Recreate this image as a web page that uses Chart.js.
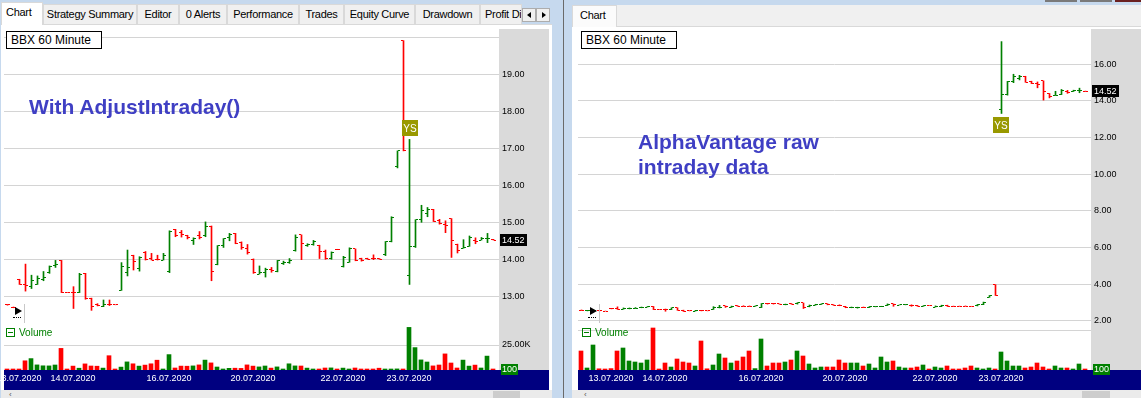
<!DOCTYPE html>
<html>
<head>
<meta charset="utf-8">
<script src="https://cdn.jsdelivr.net/npm/chart.js@4.4.1/dist/chart.umd.min.js"></script>
<style>
  body { margin:0; width:1141px; height:398px; overflow:hidden; position:relative; background:#c6d9ee;
         font-family:"Liberation Sans", Arial, sans-serif; }
  .abs { position:absolute; }
  .tab { position:absolute; top:4px; height:20px; box-sizing:border-box; background:#f0f0f0; border:1px solid #d9d9d9;
         border-bottom:none; font-size:11px; letter-spacing:-0.3px; line-height:19px; text-align:center; white-space:nowrap; overflow:hidden; color:#000; }
  .tab.on { top:2px; height:23px; background:#fff; text-align:left; padding-left:4px; z-index:2; }
  .content { position:absolute; background:#fff; }
  .axisbg { position:absolute; background:#dadada; }
  canvas { position:absolute; }
  .title { position:absolute; top:31px; height:18px; width:96px; box-sizing:border-box; border:1px solid #000; background:#fff;
           font-size:12px; line-height:16px; padding-left:4px; white-space:nowrap; z-index:3; }
  .note { position:absolute; font-weight:bold; font-size:21px; line-height:25px; color:#3f3fc4; white-space:nowrap; z-index:3; }
  .vol { position:absolute; top:327px; font-size:10px; color:#008000; z-index:3; line-height:12px; }
  .vol i { display:inline-block; width:9px; height:9px; box-sizing:border-box; border:1px solid #008000; position:relative; top:1px; margin-right:4px; }
  .vol i:after { content:""; position:absolute; left:1px; top:3px; width:5px; height:1px; background:#008000; }
  .play { position:absolute; top:304px; width:12px; height:19px; border-right:1px solid #c8c8c8; z-index:3; }
  .play b { position:absolute; left:3px; top:3px; width:0; height:0; border-left:7px solid #000; border-top:4px solid transparent; border-bottom:4px solid transparent; }
  .play u { position:absolute; left:1px; top:13px; width:8px; border-top:1px dotted #000; }
  .scroll { position:absolute; top:390px; height:8px; background:#ebebeb; }
  .thumb { position:absolute; top:391px; height:7px; background:#cdcdcd; }
  .arrbtn { position:absolute; top:8px; width:14px; height:14px; box-sizing:border-box; background:#f0f0f0; border:1px solid #adadad; }
</style>
</head>
<body>

<!-- left window -->
<div class="content" style="left:1px;top:24px;width:551px;height:366px;border-top:1px solid #d9d9d9;"></div>
<div class="tab on" style="left:1px;width:42px;">Chart</div>
<div class="tab" style="left:43px;width:94px;">Strategy Summary</div>
<div class="tab" style="left:137px;width:42px;">Editor</div>
<div class="tab" style="left:179px;width:48px;">0 Alerts</div>
<div class="tab" style="left:227px;width:72px;">Performance</div>
<div class="tab" style="left:299px;width:45px;">Trades</div>
<div class="tab" style="left:344px;width:71px;">Equity Curve</div>
<div class="tab" style="left:415px;width:65px;">Drawdown</div>
<div class="tab" style="left:480px;width:42px;text-align:left;padding-left:4px;">Profit Distribution</div>
<div class="arrbtn" style="left:522px;"><div class="abs" style="left:4px;top:3px;border-right:4px solid #000;border-top:3px solid transparent;border-bottom:3px solid transparent;"></div></div>
<div class="arrbtn" style="left:536px;"><div class="abs" style="left:5px;top:3px;border-left:4px solid #000;border-top:3px solid transparent;border-bottom:3px solid transparent;"></div></div>
<div class="axisbg" style="left:499px;top:29px;width:50px;height:341px;"></div>
<div class="scroll" style="left:1px;width:551px;"></div>
<div class="thumb" style="left:493px;width:27px;"></div>
<div class="abs" style="left:9px;top:392px;font-size:8px;color:#555;line-height:6px;">&lsaquo;</div>

<!-- separator -->
<div class="abs" style="left:563px;top:0;width:1px;height:398px;background:#6a6a6a;"></div>

<!-- right window -->
<div class="abs" style="left:617px;top:5px;width:524px;height:21px;background:#f0f0f0;border-bottom:1px solid #d9d9d9;"></div>
<div class="content" style="left:572px;top:27px;width:569px;height:363px;"></div>
<div class="tab on" style="left:572px;top:5px;width:45px;height:22px;padding-left:7px;background:#fbfbfb;">Chart</div>
<div class="abs" style="left:1045px;top:0;width:32px;height:2px;background:#7a7a7a;"></div>
<div class="abs" style="left:1080px;top:0;width:32px;height:2px;background:#7a7a7a;"></div>
<div class="abs" style="left:1115px;top:0;width:26px;height:2px;background:#6b2020;"></div>
<div class="axisbg" style="left:1091px;top:29px;width:50px;height:341px;"></div>
<div class="scroll" style="left:572px;width:569px;"></div>
<div class="thumb" style="left:1082px;width:28px;"></div>
<div class="abs" style="left:584px;top:392px;font-size:8px;color:#555;line-height:6px;">&lsaquo;</div>

<canvas id="leftPrice" width="549" height="295" style="left:0;top:29px;"></canvas>
<canvas id="leftVol" width="549" height="66" style="left:0;top:324px;"></canvas>
<canvas id="rightPrice" width="571" height="295" style="left:570px;top:29px;"></canvas>
<canvas id="rightVol" width="571" height="66" style="left:570px;top:324px;"></canvas>

<div class="title" style="left:6px;">BBX 60 Minute</div>
<div class="title" style="left:581px;">BBX 60 Minute</div>
<div class="note" style="left:29px;top:94px;">With AdjustIntraday()</div>
<div class="note" style="left:638px;top:129px;">AlphaVantage raw<br>intraday data</div>
<div class="play" style="left:12px;"><b></b><u></u></div>
<div class="play" style="left:587px;"><b></b><u></u></div>
<div class="vol" style="left:6px;"><i></i>Volume</div>
<div class="vol" style="left:582px;"><i></i>Volume</div>

<script>
const RED = '#ff0000';
const GREEN = '#008000';
const NAVY = '#000080';
const FONT = '"Liberation Sans", Arial, sans-serif';

// ---- left pane: BBX 60 minute bars after AdjustIntraday() ----
const leftOpen = [12.77,12.70,13.46,13.32,13.26,13.32,13.46,13.65,13.82,13.97,
  13.10,13.10,13.10,13.62,12.95,12.79,12.72,12.78,12.77,13.16,
  13.63,14.11,13.74,14.18,14.02,14.00,13.98,13.67,14.80,14.72,
  14.63,14.50,14.65,14.65,14.89,13.85,14.36,14.58,14.70,14.45,
  14.30,14.00,13.60,13.63,13.73,13.66,13.88,13.90,14.25,14.66,
  14.37,14.40,14.37,14.20,14.02,14.27,13.80,13.92,14.28,14.02,
  14.02,14.02,14.02,14.12,14.47,16.50,19.91,13.55,14.34,15.07,
  15.25,15.35,15.05,14.95,15.10,14.40,14.30,14.35,14.50,14.52,
  14.55,14.53];
const leftHigh = [12.78,12.71,13.46,13.87,13.57,13.55,13.67,13.82,13.97,13.97,
  13.10,13.26,13.62,13.62,12.95,12.80,12.90,12.90,12.77,13.91,
  14.25,14.11,14.07,14.21,14.16,14.11,14.16,14.77,14.81,14.78,
  14.65,14.58,14.75,15.01,14.90,14.37,14.56,14.70,14.70,14.47,
  14.40,14.01,13.82,13.76,13.78,13.97,13.95,14.02,14.66,14.66,
  14.42,14.51,14.38,14.25,14.20,14.27,14.08,14.31,14.28,14.03,
  14.03,14.12,14.02,14.48,15.15,16.93,19.91,17.24,15.07,15.46,
  15.40,15.35,15.08,15.04,15.10,14.41,14.53,14.63,14.58,14.59,
  14.70,14.54];
const leftLow = [12.76,12.69,13.32,13.14,13.21,13.32,13.42,13.62,13.78,13.10,
  13.10,12.67,13.10,12.92,12.62,12.74,12.72,12.75,12.77,13.16,
  13.55,13.71,13.68,13.98,13.98,13.98,13.98,13.64,14.61,14.60,
  14.55,14.40,14.55,14.61,13.42,13.85,14.32,14.50,14.42,14.27,
  14.14,13.62,13.60,13.52,13.65,13.66,13.86,13.89,14.22,13.99,
  14.35,14.38,14.02,14.00,14.00,14.26,13.79,13.92,13.96,13.95,
  14.00,13.99,14.00,14.10,14.47,16.47,16.93,13.32,14.32,15.00,
  15.15,15.02,14.95,14.72,14.05,14.17,14.30,14.35,14.42,14.52,
  14.45,14.52];
const leftClose = [12.77,12.70,13.32,13.30,13.42,13.48,13.50,13.80,13.87,13.10,
  13.10,13.10,13.60,12.93,12.72,12.74,12.79,12.77,12.77,13.80,
  13.78,13.95,14.04,13.99,13.98,13.99,14.11,14.75,14.63,14.68,
  14.58,14.55,14.60,14.88,13.67,14.36,14.55,14.68,14.43,14.33,
  14.17,13.63,13.63,13.72,13.70,13.97,13.92,13.97,14.60,14.42,
  14.39,14.48,14.20,14.02,14.18,14.26,14.04,14.30,13.98,13.96,
  14.00,14.01,14.00,14.47,15.12,16.93,16.93,14.34,15.07,15.32,
  15.35,15.02,14.97,14.92,14.50,14.25,14.32,14.60,14.47,14.56,
  14.57,14.52];
const leftVolume = [800,600,700,9200,11400,5100,4200,4100,5000,21600,
  500,3900,1800,6100,4000,3800,1900,14300,600,2900,
  8100,6200,3900,4900,6200,9800,700,15400,2000,3900,
  3800,4100,5100,9900,7100,3000,900,1700,1800,1600,
  5100,3900,3100,4000,1900,3100,800,6200,4100,4000,
  1900,900,1000,2000,2100,800,1900,1000,2000,900,
  800,900,1800,900,1000,1100,700,42600,22400,10100,
  8000,4100,5000,16100,7000,2000,9900,3900,4900,2000,
  13900,100];

// ---- right pane: raw AlphaVantage intraday bars (3 more bars at the start) ----
const rightOpen = [2.59,2.56,2.55,
  2.55,2.54,2.69,2.66,2.65,2.66,2.69,2.73,2.76,2.79,
  2.62,2.62,2.62,2.72,2.59,2.56,2.54,2.56,2.55,2.63,
  2.73,2.82,2.75,2.84,2.80,2.80,2.80,2.73,2.96,2.94,
  2.93,2.90,2.93,2.93,2.98,2.77,2.87,2.92,2.94,2.89,
  2.86,2.80,2.72,2.73,2.75,2.73,2.77,2.78,2.85,2.93,
  2.87,2.88,2.87,2.84,2.80,2.85,2.76,2.78,2.86,2.80,
  2.80,2.80,2.80,2.82,2.89,3.30,3.98,
  13.55,14.34,15.07,15.25,15.35,15.05,14.95,15.10,14.40,14.30,14.35,14.50,14.52,14.55,14.53];
const rightHigh = [2.60,2.58,2.60,
  2.56,2.54,2.69,2.77,2.71,2.71,2.73,2.76,2.79,2.79,
  2.62,2.65,2.72,2.72,2.59,2.56,2.58,2.58,2.55,2.78,
  2.85,2.82,2.81,2.84,2.83,2.82,2.83,2.95,2.96,2.96,
  2.93,2.92,2.95,3.00,2.98,2.87,2.91,2.94,2.94,2.89,
  2.88,2.80,2.76,2.75,2.76,2.79,2.79,2.80,2.93,2.93,
  2.88,2.90,2.88,2.85,2.84,2.85,2.82,2.86,2.86,2.81,
  2.81,2.82,2.80,2.90,3.03,3.39,3.98,
  17.24,15.07,15.46,15.40,15.35,15.08,15.04,15.10,14.41,14.53,14.63,14.58,14.59,14.70,14.54];
const rightLow = [2.57,2.55,2.54,
  2.55,2.54,2.66,2.63,2.64,2.66,2.68,2.72,2.76,2.62,
  2.62,2.53,2.62,2.58,2.52,2.55,2.54,2.55,2.55,2.63,
  2.71,2.74,2.74,2.80,2.79,2.79,2.80,2.73,2.92,2.92,
  2.91,2.88,2.91,2.92,2.68,2.77,2.86,2.90,2.88,2.85,
  2.83,2.72,2.72,2.70,2.73,2.73,2.77,2.78,2.84,2.80,
  2.87,2.88,2.80,2.80,2.80,2.85,2.76,2.78,2.79,2.79,
  2.80,2.80,2.80,2.82,2.89,3.29,3.39,
  13.32,14.32,15.00,15.15,15.02,14.95,14.72,14.05,14.17,14.30,14.35,14.42,14.52,14.45,14.52];
const rightClose = [2.57,2.58,2.58,
  2.55,2.54,2.66,2.65,2.68,2.70,2.70,2.76,2.77,2.62,
  2.62,2.62,2.72,2.59,2.54,2.55,2.56,2.55,2.55,2.76,
  2.76,2.79,2.81,2.80,2.79,2.79,2.82,2.95,2.93,2.93,
  2.92,2.91,2.92,2.98,2.73,2.87,2.91,2.94,2.89,2.87,
  2.83,2.73,2.73,2.74,2.74,2.79,2.78,2.79,2.92,2.88,
  2.88,2.90,2.84,2.80,2.84,2.85,2.81,2.86,2.80,2.79,
  2.80,2.80,2.80,2.89,3.02,3.39,3.39,
  14.34,15.07,15.32,15.35,15.02,14.97,14.92,14.50,14.25,14.32,14.60,14.47,14.56,14.57,14.52];
const rightVolume = [47500,5000,62500,
  3000,2500,3500,47500,55000,22500,20000,17500,25000,105000,
  2500,17500,7500,27500,20000,17500,10000,72500,3000,12500,
  40000,30000,17500,22500,32500,47500,3500,77500,10000,17500,
  17500,20000,25000,47500,35000,15000,5000,7500,7500,7500,
  25000,17500,17500,17500,10000,15000,5000,32500,20000,22500,
  7500,5000,5000,7500,12500,2500,7500,5000,10000,2500,
  2500,5000,10000,5000,2500,5000,2500,45000,22500,10000,
  10000,5000,7500,17500,7500,2500,10000,5000,5000,2500,
  15000,100];

// date axis
const dateLabels = ['13.07.2020','14.07.2020','16.07.2020','20.07.2020','22.07.2020','23.07.2020'];
const leftDateIdx = [2, 11, 27, 41, 56, 67];
const rightDateIdx = [5, 14, 30, 44, 59, 70];

// price / volume axis ticks
const leftPriceTicks = [13, 14, 15, 16, 17, 18, 19, 20];
const rightPriceTicks = [2, 4, 6, 8, 10, 12, 14, 16];
const leftVolTicks = [25000];
const rightVolTicks = [100000];

Chart.defaults.font.family = FONT;

function tickImage(color, startX) {
  // 5px wide stamp: open tick on the left half, close tick on the right half
  const c = document.createElement('canvas');
  c.width = 5; c.height = 1;
  const g = c.getContext('2d');
  g.fillStyle = color;
  g.fillRect(startX, 0, 2, 1);
  return c;
}

function fixedAxis(w, h) {
  return function (s) {
    if (w) s.width = w;
    if (h) s.height = h;
    s.paddingLeft = 0; s.paddingRight = 0; s.paddingTop = 0; s.paddingBottom = 0;
  };
}

function buildPane(p) {
  const n = p.close.length;
  const colors = p.close.map((c, i) => c > p.open[i] ? GREEN : RED);
  const units = (p.width - p.padLeft - 50) / 6;   // 6px per bar
  const priceMin = -0.5 - 1 / 12;
  const volMin = -0.5;

  new Chart(document.getElementById(p.id + 'Price'), {
    type: 'bar',
    data: {
      datasets: [
        { type: 'bar', data: p.high.map((h, i) => ({x: i, y: [p.low[i], h]})),
          backgroundColor: colors, barThickness: 1, borderWidth: 0 },
        { type: 'scatter', data: p.open.map((o, i) => ({x: i, y: o})),
          pointStyle: colors.map(c => tickImage(c, 0)), pointRadius: 1, pointHoverRadius: 1 },
        { type: 'scatter', data: p.close.map((c, i) => ({x: i, y: c})),
          pointStyle: colors.map(c => tickImage(c, 3)), pointRadius: 1, pointHoverRadius: 1 }
      ]
    },
    options: {
      responsive: false, animation: false,
      layout: {autoPadding: false, padding: {left: p.padLeft, right: 0, top: 0, bottom: 0}},
      plugins: {legend: {display: false}, tooltip: {enabled: false}},
      scales: {
        x: {type: 'linear', display: false, offset: false, min: priceMin, max: priceMin + units},
        y: {
          position: 'right', min: p.priceMin, max: p.priceMax,
          afterFit: fixedAxis(50, 0),
          afterBuildTicks: s => { s.ticks = p.priceTicks.map(v => ({value: v})); },
          ticks: {color: '#000', padding: 3, font: {size: 9},
                  callback: v => p.hidePriceTicks.includes(v) ? '' : v.toFixed(2)},
          grid: {color: '#d4d4d4', drawTicks: false},
          border: {display: false}
        }
      }
    },
    plugins: [{
      id: 'marks',
      afterDraw(chart) {
        const {ctx, scales: {x, y}} = chart;
        const last = p.close[n - 1];
        const py = Math.round(y.getPixelForValue(last));
        ctx.save();
        ctx.fillStyle = '#000';
        ctx.fillRect(y.left + 1, py - 6, 27, 12);
        ctx.fillStyle = '#fff';
        ctx.font = '9px ' + FONT;
        ctx.textBaseline = 'middle';
        ctx.fillText(last.toFixed(2), y.left + 3, py + 1);
        // YS signal box
        const sx = Math.round(x.getPixelForValue(p.ysIndex));
        const sy = Math.round(y.getPixelForValue(p.ysPrice));
        ctx.fillStyle = '#999900';
        ctx.fillRect(sx - 8, sy - 8, 16, 16);
        ctx.fillStyle = '#fff';
        ctx.font = '10px ' + FONT;
        ctx.textAlign = 'center';
        ctx.fillText('YS', sx, sy + 1);
        ctx.restore();
      }
    }]
  });

  new Chart(document.getElementById(p.id + 'Vol'), {
    type: 'bar',
    data: {
      datasets: [{ data: p.volume.map((v, i) => ({x: i, y: v})), backgroundColor: colors,
                   barThickness: 4, minBarLength: 1, borderWidth: 0 }]
    },
    options: {
      responsive: false, animation: false,
      layout: {autoPadding: false, padding: {left: p.padLeft, right: 0, top: 0, bottom: 0}},
      plugins: {legend: {display: false}, tooltip: {enabled: false}},
      scales: {
        x: {
          type: 'linear', position: 'bottom', offset: false, min: volMin, max: volMin + units,
          afterFit: fixedAxis(0, 20),
          afterBuildTicks: s => { s.ticks = p.dateIdx.map(v => ({value: v})); },
          ticks: {autoSkip: false, maxRotation: 0, minRotation: 0, color: '#fff', padding: 3,
                  font: {size: 9}, callback: (v, i) => dateLabels[i]},
          grid: {display: false, drawTicks: false},
          border: {display: false}
        },
        y: {
          position: 'right', min: 0, max: p.volMax,
          afterFit: fixedAxis(50, 0),
          afterBuildTicks: s => { s.ticks = p.volTicks.map(v => ({value: v})); },
          ticks: {color: '#000', padding: 3, font: {size: 9},
                  callback: v => p.showVolLabel ? (v / 1000).toFixed(2) + 'K' : ''},
          grid: {color: '#d4d4d4', drawTicks: false},
          border: {display: false}
        }
      }
    },
    plugins: [{
      id: 'dateBand',
      beforeDraw(chart) {
        const {ctx, chartArea, scales: {x}} = chart;
        ctx.save();
        ctx.fillStyle = NAVY;
        ctx.fillRect(chartArea.left, chartArea.bottom, chart.width - chartArea.left, x.height);
        ctx.restore();
      },
      afterDraw(chart) {
        const {ctx, scales: {y}} = chart;
        const base = Math.round(y.getPixelForValue(0));
        ctx.save();
        ctx.fillStyle = GREEN;
        ctx.fillRect(y.left + 2, base - 6, 17, 11);
        ctx.fillStyle = '#fff';
        ctx.font = '9px ' + FONT;
        ctx.textBaseline = 'middle';
        ctx.fillText(String(p.volume[n - 1]), y.left + 3, base);
        ctx.restore();
      }
    }]
  });
}

buildPane({
  id: 'left', width: 549, padLeft: 4,
  open: leftOpen, high: leftHigh, low: leftLow, close: leftClose, volume: leftVolume,
  priceMin: 12.251, priceMax: 20.224, priceTicks: leftPriceTicks, hidePriceTicks: [20],
  volMax: 46000, volTicks: leftVolTicks, showVolLabel: true,
  dateIdx: leftDateIdx, ysIndex: 67, ysPrice: 17.55
});

buildPane({
  id: 'right', width: 571, padLeft: 8,
  open: rightOpen, high: rightHigh, low: rightLow, close: rightClose, volume: rightVolume,
  priceMin: 1.834, priceMax: 17.928, priceTicks: rightPriceTicks, hidePriceTicks: [],
  volMax: 115000, volTicks: rightVolTicks, showVolLabel: false,
  dateIdx: rightDateIdx, ysIndex: 70, ysPrice: 12.69
});
</script>
</body>
</html>
